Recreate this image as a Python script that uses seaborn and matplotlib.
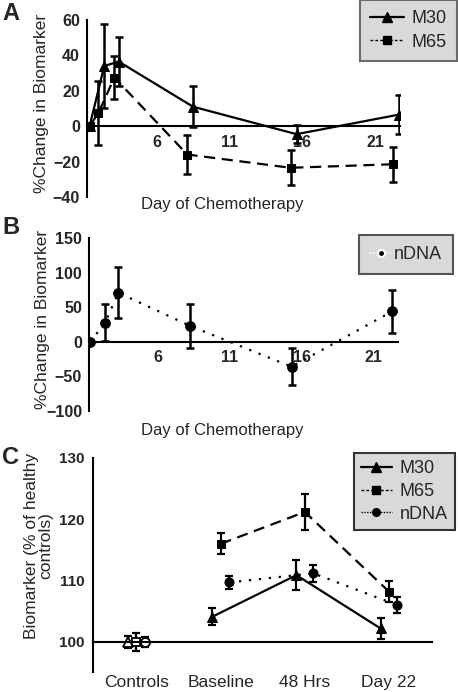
import numpy as np
import pandas as pd
import seaborn as sns
import matplotlib.pyplot as plt
from matplotlib.lines import Line2D

# Panel A - % change over days of chemotherapy
a_m30_day = [1.4, 2.4, 3.4, 8.5, 15.6, 22.6]
a_m30_val = [0, 34, 36.5, 11, -4.5, 6.5]
a_m30_err = [0, 23.5, 14, 11.5, 5, 11]
a_m65_day = [1.4, 2.0, 3.1, 8.1, 15.2, 22.2]
a_m65_val = [0, 7.5, 27.5, -16, -23.5, -21.5]
a_m65_err = [0, 18, 12, 11, 10, 10]

# Panel B - nDNA
b_day = [1.3, 2.35, 3.25, 8.25, 15.3, 22.3]
b_val = [0, 27.5, 71, 23, -36, 44]
b_err = [0, 27, 37, 32, 27, 31]

day_ticks = [6, 11, 16, 21]

# Panel C - % of healthy controls
c_groups = ["Controls", "Baseline", "48 Hrs", "Day 22"]
c_m30 = [100, 104.1, 110.9, 102.2]
c_m30_err = [1.0, 1.4, 2.4, 1.7]
c_m65 = [100, 116.0, 121.2, 108.2]
c_m65_err = [1.5, 1.7, 2.9, 1.7]
c_ndna = [100, 109.7, 111.2, 106.0]
c_ndna_err = [0.8, 1.1, 1.4, 1.3]

sns.set_style("white")
plt.rcParams['font.family'] = ['Liberation Sans', 'DejaVu Sans']

fig = plt.figure(figsize=(4.58, 6.92), dpi=100)
W, H = 458, 692


def px_axes(l, r, t, b):
    return fig.add_axes([l / W, 1 - b / H, (r - l) / W, (b - t) / H])


err_kw = dict(fmt='none', ecolor='k', elinewidth=1.8, capsize=2.8, capthick=1.8)
dash = (0, (5, 3))
dot = (0, (1, 3.5))
leg_kw = dict(fontsize=13, frameon=True, fancybox=False, facecolor='#d9d9d9', framealpha=1,
              borderaxespad=0)


def style_day_axis(ax, ylim, yticks):
    ax.set_xlim(1.22, 22.7)
    ax.set_ylim(*ylim)
    ax.set_yticks(yticks)
    ax.set_xticks(day_ticks)
    for s in ['top', 'right']:
        ax.spines[s].set_visible(False)
    ax.spines['bottom'].set_position(('data', 0))
    for s in ['left', 'bottom']:
        ax.spines[s].set_linewidth(1.5)
        ax.spines[s].set_color('k')
    ax.tick_params(axis='both', direction='out', length=3, width=1.3, color='k', labelsize=11.5, pad=2)
    ax.tick_params(axis='x', pad=3)
    for lab in ax.get_xticklabels() + ax.get_yticklabels():
        lab.set_fontweight('bold')
    ax.set_ylabel("%Change in Biomarker", fontsize=12.5, va='center')
    ax.set_xlabel("Day of Chemotherapy", fontsize=12, va='center')


# ---- A
axA = px_axes(87, 400, 20, 197)
sns.lineplot(x=a_m30_day, y=a_m30_val, ax=axA, color='k', lw=1.6, marker='^', markersize=7.5,
             markeredgecolor='k', label='M30', legend=False)
sns.lineplot(x=a_m65_day, y=a_m65_val, ax=axA, color='k', lw=1.6, linestyle=dash, marker='s',
             markersize=6, markeredgecolor='k', label='M65', legend=False)
axA.errorbar(a_m30_day, a_m30_val, yerr=a_m30_err, **err_kw)
axA.errorbar(a_m65_day, a_m65_val, yerr=a_m65_err, **err_kw)
style_day_axis(axA, (-40, 60), [-40, -20, 0, 20, 40, 60])
axA.yaxis.set_label_coords(-0.145, 0.53)
axA.xaxis.set_label_coords(0.431, -0.045)
hA = [Line2D([], [], color='k', lw=1.6, marker='^', markersize=7),
      Line2D([], [], color='k', lw=1.0, linestyle=(0, (2, 1.5)), marker='s', markersize=5.5)]
fig.legend(hA, ['M30', 'M65'], loc='upper right', bbox_to_anchor=(457 / W, 1.0),
           edgecolor='#6a6a6a', handlelength=1.9, handletextpad=0.45, borderpad=0.55,
           labelspacing=0.38, **leg_kw).get_frame().set_linewidth(1.5)

# ---- B
axB = px_axes(89, 398, 238, 411)
sns.lineplot(x=b_day, y=b_val, ax=axB, color='k', lw=1.6, linestyle=dot, marker='o',
             markersize=7, markeredgecolor='k', legend=False)
axB.errorbar(b_day, b_val, yerr=b_err, **err_kw)
style_day_axis(axB, (-100, 150), [-100, -50, 0, 50, 100, 150])
axB.yaxis.set_label_coords(-0.152, 0.53)
axB.xaxis.set_label_coords(0.430, -0.11)
hB = [Line2D([], [], color='white', lw=1.2, linestyle=(0, (1, 1)), marker='o', markersize=5,
             markerfacecolor='k', markeredgecolor='white', markeredgewidth=1.5)]
fig.legend(hB, ['nDNA'], loc='upper right', bbox_to_anchor=(453 / W, 1 - 235 / H),
           edgecolor='#555555', handlelength=1.2, handletextpad=0.15, borderpad=0.6,
           **leg_kw).get_frame().set_linewidth(1.5)

# ---- C
axC = px_axes(93, 432, 458, 672)
xpos = np.arange(len(c_groups))
offs = {'M30': -0.1, 'M65': 0.0, 'nDNA': 0.1}
series = [('M30', c_m30, c_m30_err, '^', '-', 7.5),
          ('M65', c_m65, c_m65_err, 's', dash, 6),
          ('nDNA', c_ndna, c_ndna_err, 'o', dot, 6.5)]
for name, vals, errs, mk, ls, ms in series:
    xs = xpos + offs[name]
    sns.lineplot(x=xs[1:], y=vals[1:], ax=axC, color='k', lw=1.6, linestyle=ls, marker=mk,
                 markersize=ms, markeredgecolor='k', legend=False)
    axC.plot(xs[0], vals[0], marker=mk, markersize=ms, markerfacecolor='white',
             markeredgecolor='k', markeredgewidth=1.3, linestyle='none')
    axC.errorbar(xs, vals, yerr=errs, fmt='none', ecolor='k', elinewidth=1.6, capsize=2.8,
                 capthick=1.6, zorder=1)
axC.set_xlim(-0.515, 3.51)
axC.set_ylim(95.1, 130)
axC.set_yticks([100, 110, 120, 130])
axC.set_xticks(xpos)
axC.set_xticklabels(c_groups)
for s in ['top', 'right']:
    axC.spines[s].set_visible(False)
axC.spines['bottom'].set_position(('data', 100))
for s in ['left', 'bottom']:
    axC.spines[s].set_linewidth(1.5)
    axC.spines[s].set_color('k')
axC.tick_params(axis='y', direction='out', length=3, width=1.3, color='k', labelsize=11, pad=3)
axC.tick_params(axis='x', direction='out', length=3, width=1.3, color='k', labelsize=12.5, pad=21)
for lab in axC.get_yticklabels():
    lab.set_fontweight('bold')
axC.set_ylabel("Biomarker (% of healthy\ncontrols)", fontsize=12.5, va='center', linespacing=0.95)
axC.yaxis.set_label_coords(-0.16, 0.59)
hC = [Line2D([], [], color='k', lw=1.6, marker='^', markersize=7),
      Line2D([], [], color='k', lw=1.0, linestyle=(0, (2, 1.5)), marker='s', markersize=5.5),
      Line2D([], [], color='k', lw=1.0, linestyle=(0, (1, 1)), marker='o', markersize=5.5)]
fig.legend(hC, ['M30', 'M65', 'nDNA'], loc='upper right', bbox_to_anchor=(455 / W, 1 - 453 / H),
           edgecolor='#333333', handlelength=1.7, handletextpad=0.45, borderpad=0.4,
           labelspacing=0.32, **leg_kw).get_frame().set_linewidth(1.5)

# panel letters
for letter, y in [('A', 2), ('B', 216), ('C', 446)]:
    fig.text(2 / W, 1 - y / H, letter, fontsize=17, fontweight='bold', ha='left', va='top')

fig.savefig('out.png', dpi=100)
